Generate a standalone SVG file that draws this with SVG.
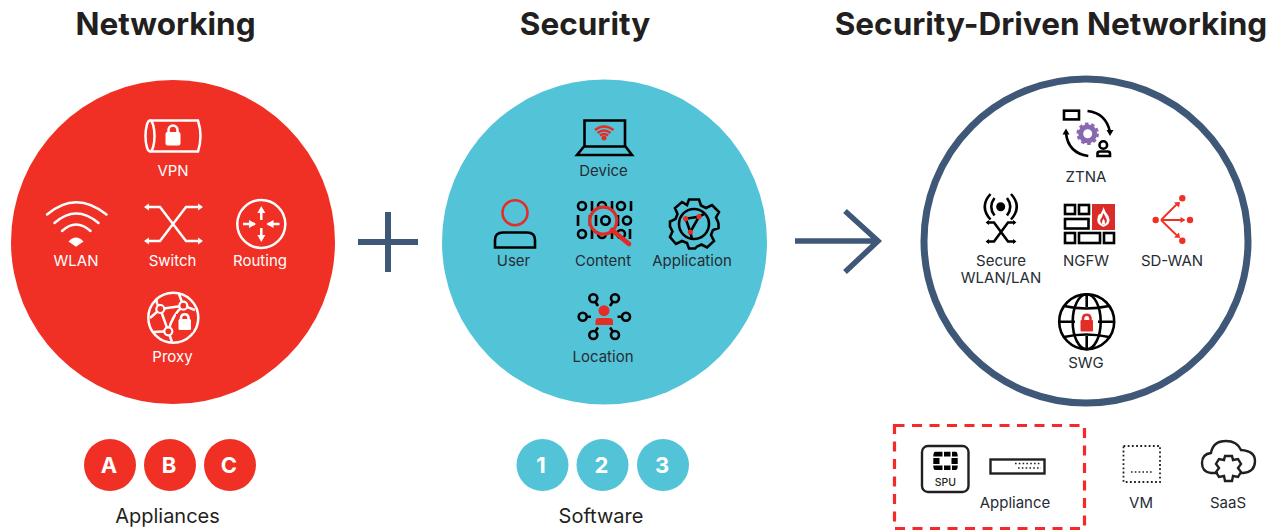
<svg xmlns="http://www.w3.org/2000/svg" width="1278" height="531" viewBox="0 0 1278 531">
<style>
text{font-family:Inter,"Liberation Sans",sans-serif;text-anchor:middle}
.t{font-size:31.500px;font-weight:700;fill:#231f20}
.l{font-size:15px;font-weight:400;fill:#262c33}
.w{font-size:15px;font-weight:400;fill:#fff}
.b{font-size:20px;font-weight:400;fill:#231f20}
.n{font-size:22px;font-weight:700;fill:#fff}
.ws{fill:none;stroke:#fff;stroke-width:2.500}
.wf{fill:#fff}
.k{fill:none;stroke:#000;stroke-width:2.600}
.r{fill:none;stroke:#e52d27;stroke-width:2.600}
.rf{fill:#e52d27}
.d{fill:none;stroke:#231f20;stroke-width:2.400}
</style>
<text class="t" x="165.500" y="35">Networking</text>
<text class="t" x="585" y="35">Security</text>
<text class="t" x="1051" y="35">Security-Driven Networking</text>

<g id="networking-circle">
<circle cx="173" cy="242" r="162" fill="#f03024"/>
</g>
<g id="vpn">
<path class="ws" d="M150 120.500H198Q203 136 198 151.500H150"/><ellipse class="ws" cx="150" cy="136" rx="4.500" ry="15.500"/>
<rect class="wf" x="165.500" y="132" width="15" height="13.500" rx="2"/><path class="ws" d="M168.500 133V130a4.500 4.500 0 0 1 9 0V133"/>
<text class="w" x="173" y="176">VPN</text></g>
<g id="wlan">
<path class="ws" stroke-linecap="round" d="M47 214.500Q76 190 106.500 214.500M54.500 223Q76 204 98.500 223M62 231Q76 218 90.500 231"/><path class="wf" d="M68.500 241.500Q76 233.500 83.500 241.500L76 246.700Z"/>
<text class="w" x="76" y="266">WLAN</text></g>
<g id="switch">
<path class="ws" d="M146 207H160L186 241H201M201 207H186L160 241H146"/>
<path class="wf" d="M144 207l5-3.500v7zM203 207l-5-3.500v7zM144 241l5-3.500v7zM203 241l-5-3.500v7z"/>
<text class="w" x="172.500" y="266">Switch</text></g>
<g id="routing">
<circle class="ws" cx="261.300" cy="224" r="24"/>
<path class="ws" d="M261.300 210V220M261.300 238V228M243 224H255M279.500 224H267.500"/>
<path class="wf" d="M261.300 206l-4 7h8zM261.300 242l-4-7h8zM256 224l-7-4v8zM266.500 224l7-4v8z"/>
<text class="w" x="260" y="266">Routing</text></g>
<g id="proxy">
<circle class="ws" cx="173.300" cy="317.700" r="25"/>
<path class="ws" d="M160.300 309L183.300 305.700M160.300 309L168.300 331.300M183.300 305.700Q172 315 168.300 331.300M160.300 309Q155 302 157 298M160.300 309L150 318M183.300 305.700L179 294M183.300 305.700L195 310M168.300 331.300L172 342M168.300 331.300L153 332"/>
<circle cx="160.300" cy="309" r="4" fill="#f03024" stroke="#fff" stroke-width="2.200"/><circle cx="183.300" cy="305.700" r="4" fill="#f03024" stroke="#fff" stroke-width="2.200"/><circle cx="168.300" cy="331.300" r="4" fill="#f03024" stroke="#fff" stroke-width="2.200"/>
<rect x="176" y="314" width="17" height="18" fill="#f03024"/><rect class="wf" x="178.500" y="319" width="12.500" height="11" rx="1.500"/><path class="ws" d="M181 320V317.500a3.800 3.800 0 0 1 7.500 0V320" stroke-width="1.800"/>
<text class="w" x="172.500" y="362">Proxy</text></g>

<g id="security-circle"><circle cx="604.500" cy="242" r="162.500" fill="#53c4d8"/></g>
<g id="device">
<path class="k" d="M584.500 146V120.500H625V146M584 146.500H625.500L632 155H577Z"/>
<path class="r" stroke-width="1.600" d="M595 130Q604 123 613.500 130M597.500 133Q604 128 610.500 133M600 135.500Q604 132.500 608 135.500"/><circle class="rf" cx="604" cy="138" r="2.500"/>
<text class="l" x="603.500" y="176">Device</text></g>
<g id="user">
<circle class="r" cx="515" cy="212.700" r="12.500" stroke-width="2.800"/>
<path class="k" stroke-width="2.800" d="M495 247.500V240Q495 232.500 503 232.500H527Q535 232.500 535 240V247.500Z"/>
<text class="l" x="513.500" y="266">User</text></g>
<g id="content">
<g class="k" stroke-width="3"><circle cx="582" cy="206" r="4"/><path d="M592 201V211M612 201V211M631 201V211"/><circle cx="602" cy="206" r="4"/><circle cx="621" cy="206" r="4"/>
<path d="M578 215V226M590 215V226M618 215V226"/><circle cx="627" cy="220.500" r="4"/>
<circle cx="582" cy="234" r="4"/><path d="M592 229V239M612 229V239M630 229V239"/><circle cx="602" cy="234" r="4"/><circle cx="621" cy="234" r="4"/></g>
<circle cx="603.300" cy="220.700" r="13.500" fill="#53c4d8" stroke="#e02b27" stroke-width="3.200"/>
<path d="M612 230L629 244" stroke="#e02b27" stroke-width="4.800" stroke-linecap="round"/>
<path class="k" stroke-width="2.600" d="M596 215V226"/><circle class="k" cx="605.500" cy="220.500" r="4.200"/>
<text class="l" x="603" y="266">Content</text></g>
<g id="application">
<path class="k" stroke-width="2.400" d="M689 199.500H699L701 205.500L706 208L712 205L719 212L716 217.500L718 222L718.500 224V228L713 230L711 235L714 241L707 247.500L701.500 244.500L697 246.500L695 248.500H689L687 243L682 241L676 244L670 237L672.500 231.500L670 226.500H670V221.500L675.500 219L677.500 214L675 208L682 202L687 205Z"/>
<circle class="k" cx="694" cy="224" r="15"/>
<path class="k" stroke-width="1.800" d="M685.700 218.700L699 216.700L690.300 232L685.700 218.700M690.300 232L692 239M699 216.700L704 214"/>
<circle class="rf" cx="685.700" cy="218.700" r="2.600"/><circle class="rf" cx="699" cy="216.700" r="2.600"/><circle class="rf" cx="690.300" cy="232" r="2.600"/>
<text class="l" x="692" y="266">Application</text></g>
<g id="location">
<circle class="rf" cx="604" cy="310.700" r="5.500"/><path class="rf" d="M595.500 325V321Q595.500 318 599 318H609Q613 318 613 321V325Z"/>
<g class="k"><circle cx="593.300" cy="298.300" r="4"/><circle cx="615" cy="298.300" r="4"/><circle cx="582.700" cy="316.700" r="4"/><circle cx="626" cy="316.700" r="4"/><circle cx="593.300" cy="335" r="4"/><circle cx="615" cy="335" r="4"/><path d="M595.500 302L598 306M612.500 302L610 306M586.700 316.700H591M622 316.700H617.500M595.500 331L598 327.500M612.500 331L610 327.500"/></g>
<text class="l" x="603" y="362">Location</text></g>

<g id="connectors" fill="none" stroke="#3f5878" stroke-width="6">
<path d="M358 242H418M388 212V272"/>
<path d="M795 241H876M845 211L878 241L845 272" stroke-width="5.500"/>
</g>

<g id="sdn-circle"><circle cx="1086" cy="241" r="162" fill="#fff" stroke="#3f5878" stroke-width="7"/></g>
<g id="ztna">
<rect class="k" x="1064" y="110.700" width="15" height="8.700" stroke-width="2"/>
<path class="k" stroke-width="1.800" d="M1087.500 111Q1106 113 1110 132M1088.300 156Q1068 153 1066 133"/>
<path d="M1110 136l-3.500-6h7zM1066 128.500l-3.500 6h7z"/>
<circle cx="1087.700" cy="133.700" r="7" fill="none" stroke="#8a68b0" stroke-width="5"/><circle cx="1087.700" cy="133.700" r="10" fill="none" stroke="#8a68b0" stroke-width="2.500" stroke-dasharray="3.500 2.800"/>
<circle class="k" cx="1103.300" cy="145" r="3.800" stroke-width="2"/><path class="k" stroke-width="2" d="M1097.500 156V153.500Q1097.500 151.500 1100 151.500H1107.500Q1110 151.500 1110 153.500V156Z"/>
<text class="l" x="1086" y="182">ZTNA</text></g>
<g id="secure-wlan">
<circle cx="1000.700" cy="206.700" r="4.500"/>
<path class="k" d="M994.500 198Q988 206.700 994.500 215.500M1007 198Q1013.500 206.700 1007 215.500M990.500 194Q979 206.700 990.500 219.500M1011 194Q1022.500 206.700 1011 219.500"/>
<path class="k" stroke-width="2" d="M987 222.500H994L1008 241.500H1015M1015 222.500H1008L994 241.500H987"/>
<path d="M985.500 222.500l3.500-2.500v5zM1016.500 222.500l-3.500-2.500v5zM985.500 241.500l3.500-2.500v5zM1016.500 241.500l-3.500-2.500v5z"/>
<text class="l" x="1001" y="266">Secure</text><text class="l" x="1001" y="283">WLAN/LAN</text></g>
<g id="ngfw">
<g class="k" stroke-width="2.200"><rect x="1065" y="205" width="10" height="9"/><rect x="1079" y="205" width="10" height="9"/><rect x="1065" y="219" width="23.500" height="9.500"/><rect x="1065" y="233" width="10" height="10"/><rect x="1079" y="233" width="21" height="10"/><rect x="1104" y="233" width="10" height="10"/></g>
<rect x="1092" y="204" width="23" height="26" fill="#d92b27"/>
<path d="M1103.500 207Q1105 212 1108.500 216Q1112 224 1103.500 227Q1095 224 1098 216Q1099 213.500 1100.500 214Q1102.500 211 1103.500 207Z" fill="#fff"/><path d="M1103.500 213Q1106 218 1106.800 220Q1107 223.500 1103.500 224.500Q1100 223.500 1100.200 220Q1102 218 1103.500 213Z" fill="#d92b27"/><path d="M1103.500 218.500Q1105.500 221 1105 224H1102Q1101.500 221 1103.500 218.500Z" fill="#fff"/>
<text class="l" x="1086" y="266">NGFW</text></g>
<g id="sd-wan">
<g fill="none" stroke="#f03024" stroke-width="1.800"><path d="M1161 220L1178 203M1161 220H1184M1161 220L1178 236.500"/></g>
<g fill="#f03024"><circle cx="1155.700" cy="220" r="3.200"/><circle cx="1182.300" cy="198.300" r="3.200"/><circle cx="1190" cy="220" r="3.200"/><circle cx="1182.300" cy="240.700" r="3.200"/><path d="M1180 202l-6 .5l5 5zM1185.500 220l-5-3v6zM1180 238l-6-.5l5-5z"/></g>
<text class="l" x="1172" y="266">SD-WAN</text></g>
<g id="swg">
<circle class="k" cx="1086.700" cy="321.700" r="27.500"/><ellipse class="k" cx="1086.700" cy="321.700" rx="14" ry="27.500"/>
<path class="k" d="M1086.700 294V307M1086.700 336V349M1059 321.700H1075M1098 321.700H1114M1064 306Q1086 311 1109 306M1064 337Q1086 332 1109 337"/>
<rect class="rf" x="1080.500" y="320" width="12.500" height="11.500" rx="1"/><path class="r" d="M1083 320.500V318a3.800 3.800 0 0 1 7.500 0V320.500"/>
<text class="l" x="1086" y="368">SWG</text></g>

<g id="networking-badges"><circle cx="110" cy="465" r="26" fill="#f03024"/><circle cx="170" cy="465" r="26" fill="#f03024"/><circle cx="230" cy="465" r="26" fill="#f03024"/>
<text class="n" x="109" y="473">A</text><text class="n" x="169" y="473">B</text><text class="n" x="229" y="473">C</text>
<text class="b" x="167.500" y="523">Appliances</text></g>
<g id="security-badges"><circle cx="542.500" cy="465" r="26" fill="#53c4d8"/><circle cx="602.500" cy="465" r="26" fill="#53c4d8"/><circle cx="663" cy="465" r="26" fill="#53c4d8"/>
<text class="n" x="541" y="473">1</text><text class="n" x="601.500" y="473">2</text><text class="n" x="662" y="473">3</text>
<text class="b" x="601" y="523">Software</text></g>

<g id="appliance-box"><rect x="894.500" y="425.500" width="190" height="103" fill="none" stroke="#f5282a" stroke-width="3.200" stroke-dasharray="10 7.500"/></g>
<g id="spu">
<rect class="d" x="922" y="446" width="46.500" height="46" rx="6"/>
<path d="M935 451.700H942.500V456.500H933.300Q933.300 452.500 935 451.700ZM944 451.700H950.500V456.500H944ZM952 451.700H956Q957.700 452.500 957.700 456.500H952ZM933.300 458H939.500V464H933.300ZM951.500 458H957.700V464H951.500ZM933.300 465.500H942.500V470H935Q933.300 469.500 933.300 465.500ZM944 465.500H950.500V470H944ZM952 465.500H957.700Q957.700 469.500 956 470H952Z" fill="#000"/>
<text x="945.300" y="486" font-size="10.500" font-weight="500" fill="#231f20">SPU</text></g>
<g id="appliance">
<rect class="d" x="990.500" y="459.500" width="54" height="14"/>
<path d="M1015 463.500H1040" stroke="#231f20" stroke-width="1.600" stroke-dasharray="1.600 2.200"/><path d="M1018 468H1041" stroke="#231f20" stroke-width="1.600" stroke-dasharray="1.600 2.200"/>
<text class="l" x="1015" y="508">Appliance</text></g>
<g id="vm">
<rect x="1123.500" y="446" width="36.500" height="36" fill="none" stroke="#231f20" stroke-width="1.800" stroke-dasharray="1.800 2.400"/>
<path d="M1131 472H1153" stroke="#231f20" stroke-width="1.600" stroke-dasharray="1.600 2.200"/>
<text class="l" x="1141" y="508">VM</text></g>
<g id="saas">
<path class="d" d="M1218 473H1211Q1202 472 1202 463Q1202 454 1211 453Q1213 441 1226 441Q1237 441 1241 450Q1255 451 1255 461Q1255 472 1243 473H1240"/>
<path class="d" d="M1225 456H1232L1233 460L1238 459L1241 464L1238 468L1241 472L1238 477L1233 476L1232 481H1225L1224 476L1219 477L1216 472L1219 468L1216 464L1219 459L1224 460Z" fill="#fff"/>
<text class="l" x="1228" y="508">SaaS</text></g>
</svg>
